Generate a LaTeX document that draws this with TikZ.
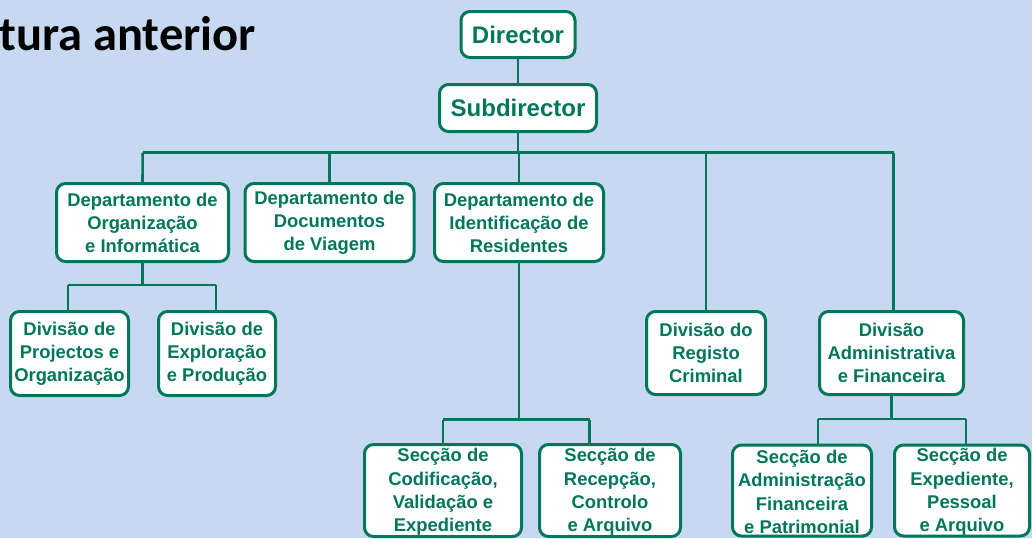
\documentclass[tikz,border=0pt]{standalone}
\usepackage{fontspec}
\newfontfamily\boxfont{Liberation Sans}
\newfontfamily\titlefont{Carlito}
\definecolor{bgblue}{RGB}{198,217,240}
\definecolor{orggreen}{RGB}{0,118,90}
\tikzset{
  box/.style={draw=orggreen, line width=3pt, fill=white, rounded corners=9pt,
    text=orggreen, align=center, inner sep=0pt,
    font=\boxfont\bfseries\fontsize{18.4}{23}\selectfont},
  topbox/.style={box, font=\boxfont\bfseries\fontsize{24}{28}\selectfont},
  sectext/.style={text=orggreen, align=center, inner sep=0pt,
    font=\boxfont\bfseries\fontsize{18.4}{23.2}\selectfont},
  link/.style={draw=orggreen, line width=2.6pt}
}
\begin{document}
\begin{tikzpicture}[x=1pt,y=-1pt]
\fill[bgblue] (0,0) rectangle (1032,538);
\useasboundingbox (0,0) rectangle (1032,538);

\node[anchor=base east, inner sep=0pt, font=\titlefont\bfseries\fontsize{48.5}{50}\selectfont] (title) at (256,50) {tura anterior};

\coordinate (busL) at (142.7,152.7);
\coordinate (busR) at (893.5,152.7);
\coordinate (orgL) at (68,285);
\coordinate (orgR) at (216,285);
\coordinate (idL) at (443,419.5);
\coordinate (idR) at (589.5,419.5);
\coordinate (admL) at (818,419);
\coordinate (admR) at (966,419);

\node[topbox, minimum width=114pt, minimum height=46pt] (dir) at (518,34.5) {Director};
\node[topbox, minimum width=157pt, minimum height=47pt] (sub) at (518,108) {Subdirector};

\node[box, minimum width=172pt, minimum height=78pt] (dorg) at (142.5,222.5) {Departamento de\\Organização\\e Informática};
\node[box, minimum width=169pt, minimum height=78pt] (ddoc) at (329.5,222.5) {Departamento de\\Documentos\\de Viagem};
\node[box, minimum width=169pt, minimum height=78pt] (did) at (519,222.5) {Departamento de\\Identificação de\\Residentes};

\node[box, minimum width=118pt, minimum height=84pt] (dproj) at (69.5,353.5) {Divisão de\\Projectos e\\Organização};
\node[box, minimum width=117pt, minimum height=84pt] (dexp) at (217,353.5) {Divisão de\\Exploração\\e Produção};
\node[box, minimum width=119pt, minimum height=83pt] (dreg) at (706,353) {Divisão do\\Registo\\Criminal};
\node[box, minimum width=144pt, minimum height=83pt] (dadm) at (891.5,353) {Divisão\\Administrativa\\e Financeira};

\node[box, minimum width=157pt, minimum height=92pt] (scod) at (443,490.5) {};
\node[box, minimum width=141pt, minimum height=92pt] (srec) at (610,490.5) {};
\node[box, minimum width=139pt, minimum height=91pt] (sadm) at (802,490.5) {};
\node[box, minimum width=135pt, minimum height=91pt] (sexp) at (962,490.5) {};
\node[sectext] (scodt) at (443,492) {Secção de\\Codificação,\\Validação e\\Expediente};
\node[sectext] (srect) at (610,492) {Secção de\\Recepção,\\Controlo\\e Arquivo};
\node[sectext] (sadmt) at (802,492) {Secção de\\Administração\\Financeira\\e Patrimonial};
\node[sectext] (sexpt) at (962,492) {Secção de\\Expediente,\\Pessoal\\e Arquivo};

% connectors
\draw[link] (dir.south) -- (sub.north);
\draw[link] (sub.south) -- (sub.south |- busL);
\draw[link] (busL) -- (busR);
\draw[link] (busL) -- (dorg.north);
\draw[link] (ddoc.north |- busL) -- (ddoc.north);
\draw[link] (did.north |- busL) -- (did.north);
\draw[link] (dreg.north |- busL) -- (dreg.north);
\draw[link] (busR) -- (busR |- dadm.north);

\draw[link] (dorg.south) -- (dorg.south |- orgL);
\draw[link] (orgL) -- (orgR);
\draw[link] (orgL) -- (orgL |- dproj.north);
\draw[link] (orgR) -- (orgR |- dexp.north);

\draw[link] (did.south) -- (did.south |- idL);
\draw[link] (idL) -- (idR);
\draw[link] (idL) -- (idL |- scod.north);
\draw[link] (idR) -- (idR |- srec.north);

\draw[link] (dadm.south) -- (dadm.south |- admL);
\draw[link] (admL) -- (admR);
\draw[link] (admL) -- (admL |- sadm.north);
\draw[link] (admR) -- (admR |- sexp.north);
\end{tikzpicture}
\end{document}
